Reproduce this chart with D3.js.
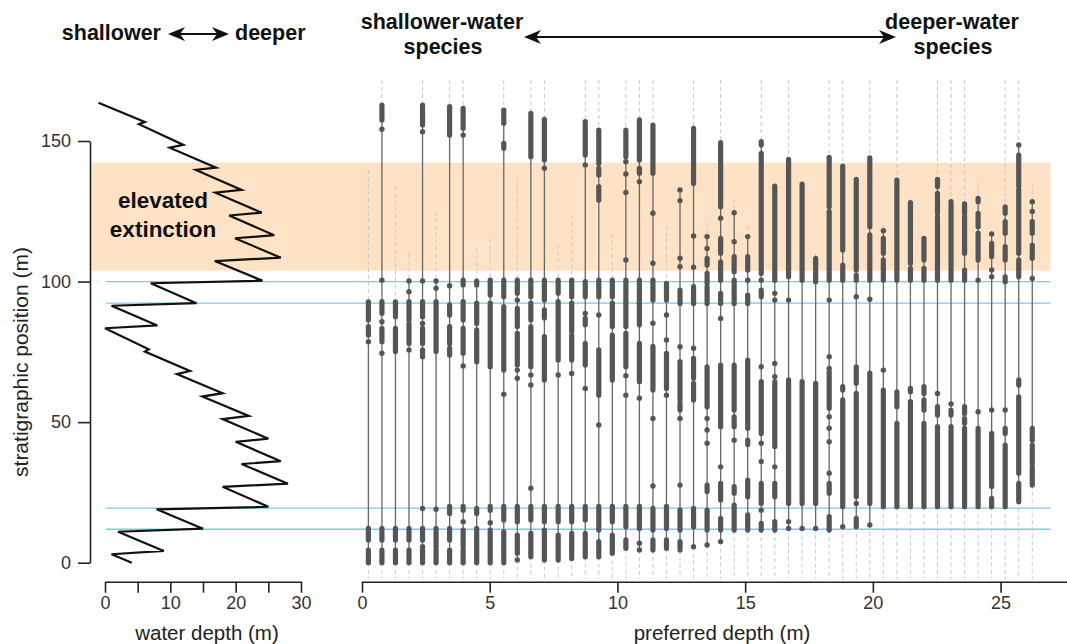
<!DOCTYPE html>
<html><head><meta charset="utf-8">
<script src="https://cdn.jsdelivr.net/npm/d3@7"></script>
<style>
body{margin:0;background:#fff}
svg{display:block}
text{font-family:"Liberation Sans",Arial,Helvetica,sans-serif}
</style>
</head><body>
<svg id="c" width="1067" height="644"></svg>
<script>
// ---------------- data ----------------
const stratTicks = [0, 50, 100, 150];
const waterTicks = [0, 5, 10, 15, 20, 25, 30];
const prefTicks = [0, 5, 10, 15, 20, 25];

// water depth (m), stratigraphic position (m)
const waterDepthCurve = [[4.1,0],[1,3],[9,4.2],[2,11],[15,12.1],[7.9,19],[25,19.9],[18,27],[28,28.1],[20.9,35.1],[26.9,36.1],[20,43],[25,44.1],[18,51.1],[22,52.2],[14.9,59.1],[18,60.3],[11,67.1],[13,68.2],[6.1,75.1],[6.7,75.9],[0,83.4],[8,84.4],[1,91.4],[14,92.3],[7,99.4],[24.1,100.3],[16.8,107.3],[26.9,108.5],[19.9,115.4],[25.9,116.5],[19,123.5],[24,124.5],[16.9,131.6],[20.9,132.6],[13.9,139.7],[17,140.5],[9.9,147.6],[12,148.6],[5.2,156],[6.1,156.8],[-1,163.6]];

const elevatedExtinction = [103.9, 142.3];
const flooding = [100, 92.3, 19.4, 11.9];

const preferredDepth = [0.25,0.78,1.31,1.84,2.37,2.90,3.43,3.96,4.49,5.02,5.55,6.08,6.61,7.14,7.68,8.21,8.74,9.27,9.80,10.33,10.86,11.39,11.92,12.45,12.98,13.51,14.04,14.57,15.10,15.63,16.16,16.70,17.23,17.76,18.29,18.82,19.35,19.88,20.41,20.94,21.47,22.00,22.53,23.06,23.59,24.12,24.65,25.18,25.71,26.24];

// top of dashed range extension (m)
const rangeTop = [139.7,171.7,133.8,110,171.7,124.9,171.7,171.7,111.8,115.4,171.7,137.3,171.7,171.7,113,123.7,171.7,171.7,117.2,171.7,171.7,171.7,120.1,132.6,171.7,120.7,171.7,129.6,119.5,171.7,134,171.7,134.7,110,171.7,171.7,136.4,171.7,120,171.7,129.6,115.4,171.7,171.7,171.7,134.9,118,171.7,171.7,134.9];
const rangeBottom = -5.8;

// occurrences per species: [from, to] runs of samples or single levels (m)
const occurrences = [
 [[86.3,92.8],[81,84],[78.6],[8.1,12.2],[0,4.5]],
 [[157.5,162.8],[154.2],[100.5],[88.7,92.9],[85.7],[78.6,83.4],[74.5],[8.1,12.2],[0,4.5]],
 [[87.5,92.8],[75.1,83.4],[8.1,12.2],[0,4.5]],
 [[100.2],[96.4],[86.3,92.9],[78,85],[75.7],[8.1,12.2],[0,4.5]],
 [[155.7,162.8],[153.3],[100.2],[87.5,92.9],[85.1],[78,83.4],[73.3,75.7],[19.3],[8.1,12.2],[5.7],[0,4.5]],
 [[100.2],[97.6],[75.1,92.9],[19],[5.7,12.2],[0,4.5]],
 [[152.1,162.2],[98.5],[88.1,91.7],[78,84],[73.9,76.3],[17.5,20],[8.1,12.2],[0,4.5]],
 [[154.5,161.6],[152.1],[98.8,100.5],[86.3,92.9],[74.5,83.4],[70],[18.7,20],[14.6],[5.7,11.6],[0,4.5]],
 [[98.8,100.2],[85.1,92.3],[71.5,82.8],[17.5,19.3],[0,12.2]],
 [[95.2,100.5],[69.7,92.3],[18.7,20],[14.2],[0,11.6]],
 [[156.3,161],[147.4,149.2],[94.6,100.5],[68.5,91.1],[59.9],[15.2,20],[5.1,11],[0,4.5]],
 [[95.8,100.5],[93.4],[84,90.5],[70.3,81.6],[68.5],[65.6],[14.6,20],[3.4,9.8],[1]],
 [[144.4,159.8],[94.6,100.5],[86.3,92.3],[69.7,84],[66.8],[63.2],[26.5],[15.2,20],[2.1,10.4]],
 [[143.2,157.7],[140.3],[93.4,100.5],[87,89.9],[65,80.4],[14.6,20],[1,11.6]],
 [[95.8,100.5],[72.1,92.9],[66.8],[14.6,20],[1,9.8]],
 [[94.6,100.5],[82.2,92.3],[72.1,81],[67.3],[14.6,20],[1.5,10.4]],
 [[145,156.9],[141.5],[94.6,100],[88.7],[84.6,87],[70.3,78],[62],[15.2,20],[2.1,10.4]],
 [[142,153.9],[137.9,140.3],[129,133.8],[94.6,100.5],[88.1],[59.6,75.7],[49],[11.6,20],[2.1,7.5]],
 [[94.6,100.5],[84,92.3],[65,81],[14.6,20],[3.4,9.8]],
 [[144.4,153.9],[142.6],[138.3],[131.7],[107.7],[93.4,100.5],[84,92.9],[69.7,81.6],[66.5],[59.6],[12.8,20],[5.1,8.1]],
 [[143.2,157.5],[138.5,140.3],[135.5],[92.2,100.5],[84.6,92.3],[64.4,78],[58.5],[12.2,20],[6.9],[4.5]],
 [[138.5,155.7],[124.3],[106.5],[93.4,100.5],[85.2],[61.4,77],[51.3],[27.3],[11.6,19.3],[4.5,8.1]],
 [[93.4,99.4],[88.1],[79.2],[62,74.5],[59.6],[12.2,20],[5.1,8.1]],
 [[132.6],[128.8],[108.3],[105.3],[92.2,97],[76.8],[57.9,71.5],[54.3,56.7],[51.3],[27.6],[11.6,18.7],[4.5,7.5]],
 [[134.9,154.5],[116.2],[105.1],[92.2,98.2],[76.3],[65.6,72.7],[57.9,63.8],[12.8,19.3],[5.7]],
 [[116],[111.8],[105.9,108.3],[99.4,102.9],[92.2,98.2],[55.5,69.7],[51.3],[47.2],[42.5],[25.3,27.6],[11.6,18.7],[6.3]],
 [[126.6,149.4],[122.5],[110,115.4],[100.5,107],[92.2,95.8],[86.9],[48.4,70.3],[34.1],[22.3,28.2],[11.6,15.8],[7.5]],
 [[124.5],[114.2],[103.5,108.9],[92.2,100.5],[54.3,70.3],[48.4,51.9],[43.6],[24.7,27.1],[11.6,20.5]],
 [[116],[104.1,108.9],[100.5],[92.2,95.2],[47.8,72.1],[42,43.6],[23.5,29.4],[11.6,17]],
 [[148.6,149.8],[102.9,145.6],[100.5],[94.6,97],[69.7],[46,64.4],[42.5],[36],[21.1,28.2],[18.7],[11.6,14]],
 [[100.5,134],[95.8],[93.4],[70.9],[66.2],[41.3,64.4],[34.1],[23.5,28.2],[11.6,14.6]],
 [[101.7,143.5],[93.4],[21.1,65],[14.6],[12.2]],
 [[100.5,134.7],[21.1,64.4],[12.2]],
 [[99.9,108.3],[21.1,63.8],[12.2]],
 [[126.6,144.2],[100.5,124.9],[93.4],[73.3],[69.1],[54.9,67.9],[51.9],[47.8],[43],[31.8],[24.7,28.2],[11.6,16.4]],
 [[111.2,141.1],[100.5,105.9],[61.4,62.6],[19.9,57.9],[12.8]],
 [[104.1,136.4],[100.5,102.3],[94.6],[63.8,69.7],[23.5,60.2],[21.1],[12.8,15.8]],
 [[119.5,144],[100.5,116.6],[93.7],[21.1,67.4],[13.4]],
 [[118.1],[110,115.4],[100.5,107.7],[68.5],[19.9,61.4]],
 [[100.5,136.1],[55.5,60.8],[19.9,49.6]],
 [[106.5,128.1],[100.5,104.7],[60.8,62],[19.9,57.3]],
 [[107.7,115.4],[100.5,104.7],[60.2,62.6],[54.3,57.9],[19.9,49.6]],
 [[133.8,136.4],[124.3,131.4],[100.5,123],[60.2],[52.5,55.5],[19.9,48.4]],
 [[100.5,128.4],[56.5],[52.5,54.3],[19.9,48.4]],
 [[124.3,127.6],[110,123.1],[100.5,104.1],[53.1,55.5],[49.6,51.3],[19.9,47.8]],
 [[128.4,129.6],[119.5,124.3],[107.7,117.2],[100.5],[53.7],[19.9,47.8]],
 [[116.9],[108.9,113.6],[104.1],[101.7],[54.3],[27.1,46],[19.9,22.9]],
 [[124.3,126.6],[117.2,121.3],[107.7,112.4],[99.9,101.7],[54.3],[46,47.8],[19.9,41.8]],
 [[148.6],[133.8,145],[110,132.6],[101.7,107.7],[63.2,65],[31.8,59],[21.7,28.2]],
 [[128.4],[124.9],[117.2,121.3],[108.3,113],[101.1],[43.6,47.8],[35.4,41.8],[27.6,34.1]]
];

// ---------------- drawing ----------------
const svg = d3.select("#c");
const y = d3.scaleLinear().domain([0, 150]).range([562.7, 141]);
const xw = d3.scaleLinear().domain([0, 30]).range([105, 301]);
const xp = d3.scaleLinear().domain([0, 27.6]).range([362, 1067]);
const axisY = 581.7;
const plotRight = xp(26.95);

// elevated extinction band
svg.append("rect")
  .attr("x", 91.5).attr("width", plotRight - 91.5)
  .attr("y", y(elevatedExtinction[1]))
  .attr("height", y(elevatedExtinction[0]) - y(elevatedExtinction[1]))
  .attr("fill", "#fde2c6");

// flooding surfaces
svg.selectAll("line.flood").data(flooding).join("line")
  .attr("class", "flood")
  .attr("x1", xw(0) + 1).attr("x2", plotRight)
  .attr("y1", d => y(d)).attr("y2", d => y(d))
  .attr("stroke", "#74cde3").attr("stroke-width", 1.3);

// species
const species = preferredDepth.map((p, i) => {
  const vals = occurrences[i].flat();
  return {p, occ: occurrences[i], lo: d3.min(vals), hi: d3.max(vals), top: rangeTop[i]};
});
const g = svg.append("g");
g.selectAll("line.dtop").data(species.filter(s => s.top > s.hi + 0.5)).join("line")
  .attr("x1", s => xp(s.p)).attr("x2", s => xp(s.p))
  .attr("y1", s => y(s.top)).attr("y2", s => y(s.hi))
  .attr("stroke", "#c9c9c9").attr("stroke-width", 1).attr("stroke-dasharray", "4,3");
g.selectAll("line.dbot").data(species).join("line")
  .attr("x1", s => xp(s.p)).attr("x2", s => xp(s.p))
  .attr("y1", s => y(s.lo)).attr("y2", y(rangeBottom))
  .attr("stroke", "#c9c9c9").attr("stroke-width", 1).attr("stroke-dasharray", "4,3");
g.selectAll("line.range").data(species).join("line")
  .attr("x1", s => xp(s.p)).attr("x2", s => xp(s.p))
  .attr("y1", s => y(s.hi)).attr("y2", s => y(s.lo))
  .attr("stroke", "#666").attr("stroke-width", 1.3);
species.forEach(s => {
  const runs = s.occ.filter(o => o.length === 2);
  const singles = s.occ.filter(o => o.length === 1);
  g.append("g").selectAll("line").data(runs).join("line")
    .attr("x1", xp(s.p)).attr("x2", xp(s.p))
    .attr("y1", d => y(d[1])).attr("y2", d => y(d[0]))
    .attr("stroke", "#555").attr("stroke-width", 5.2).attr("stroke-linecap", "round");
  g.append("g").selectAll("circle").data(singles).join("circle")
    .attr("cx", xp(s.p)).attr("cy", d => y(d[0])).attr("r", 2.7)
    .attr("fill", "#555");
});

// water depth curve
svg.append("path").datum(waterDepthCurve)
  .attr("d", d3.line().x(d => xw(d[0])).y(d => y(d[1])))
  .attr("fill", "none").attr("stroke", "#111").attr("stroke-width", 2.2)
  .attr("stroke-linejoin", "miter");

// axes
function styleAxis(sel) {
  sel.attr("font-family", null).attr("font-size", null);
  sel.selectAll("path.domain").attr("stroke", "#222").attr("stroke-width", 1.6);
  sel.selectAll(".tick line").attr("stroke", "#222").attr("stroke-width", 1.6);
  sel.selectAll(".tick text").attr("fill", "#333").style("font-size", "18px");
}
svg.append("g").attr("transform", "translate(90,0)")
  .call(d3.axisLeft(y).tickValues(stratTicks).tickSize(12).tickPadding(7).tickSizeOuter(0))
  .call(styleAxis);
svg.append("g").attr("transform", `translate(0,${axisY})`)
  .call(d3.axisBottom(xw).tickValues(waterTicks).tickFormat(d => d % 10 === 0 ? d : "").tickSize(11).tickPadding(4).tickSizeOuter(0))
  .call(styleAxis);
svg.append("g").attr("transform", `translate(0,${axisY})`)
  .call(d3.axisBottom(xp).tickValues(prefTicks).tickSize(11).tickPadding(4).tickSizeOuter(0))
  .call(styleAxis);

// axis titles
svg.append("text").attr("x", 207).attr("y", 640).attr("text-anchor", "middle")
  .style("font-size", "20.5px").attr("fill", "#222").text("water depth (m)");
svg.append("text").attr("x", 722).attr("y", 640).attr("text-anchor", "middle")
  .style("font-size", "20.5px").attr("fill", "#222").text("preferred depth (m)");
svg.append("text").attr("transform", "translate(28,362) rotate(-90)").attr("text-anchor", "middle")
  .style("font-size", "21px").attr("fill", "#222").text("stratigraphic position (m)");

// band label
svg.append("text").attr("x", 163).attr("y", 208).attr("text-anchor", "middle")
  .style("font-size", "22.5px").style("font-weight", "bold").attr("fill", "#111").text("elevated");
svg.append("text").attr("x", 163).attr("y", 237).attr("text-anchor", "middle")
  .style("font-size", "22.5px").style("font-weight", "bold").attr("fill", "#111").text("extinction");

// headers
function header(x, yy, anchor, t) {
  svg.append("text").attr("x", x).attr("y", yy).attr("text-anchor", anchor)
    .style("font-size", "21.5px").style("font-weight", "bold").attr("fill", "#111").text(t);
}
header(161, 40, "end", "shallower");
header(235, 40, "start", "deeper");
header(442, 29, "middle", "shallower-water");
header(443, 54, "middle", "species");
header(952, 29, "middle", "deeper-water");
header(953, 54, "middle", "species");

function dblArrow(x1, x2, yy) {
  svg.append("line").attr("x1", x1 + 8).attr("x2", x2 - 8).attr("y1", yy).attr("y2", yy)
    .attr("stroke", "#111").attr("stroke-width", 2);
  const head = (tx, dir) => `M${tx},${yy} L${tx - dir * 17},${yy - 7} L${tx - dir * 12},${yy} L${tx - dir * 17},${yy + 7} Z`;
  svg.append("path").attr("d", head(x2, 1)).attr("fill", "#111");
  svg.append("path").attr("d", head(x1, -1)).attr("fill", "#111");
}
dblArrow(168, 229, 34);
dblArrow(524, 896, 37);
</script>
</body></html>
